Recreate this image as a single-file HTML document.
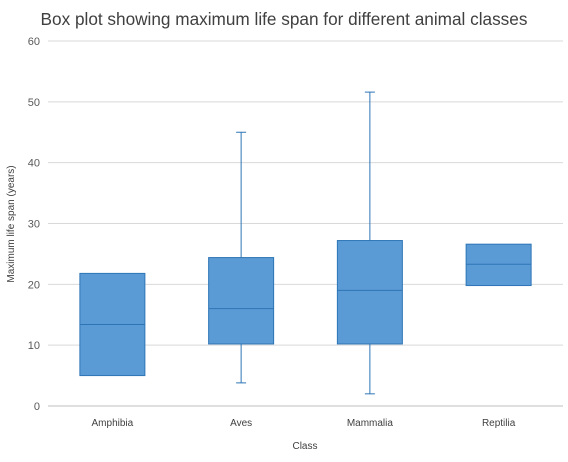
<!DOCTYPE html>
<html><head><meta charset="utf-8"><style>
body{margin:0;background:#fff;font-family:"Liberation Sans",sans-serif}
</style></head><body>
<svg id="chart" width="568" height="457" xmlns="http://www.w3.org/2000/svg" font-family="Liberation Sans, sans-serif">
<text x="284" y="25" text-anchor="middle" font-size="17.2" fill="#404040">Box plot showing maximum life span for different animal classes</text>
<text transform="translate(14,224) rotate(-90)" text-anchor="middle" font-size="10" fill="#404040">Maximum life span (years)</text>
<text x="305" y="449" text-anchor="middle" font-size="10" fill="#404040">Class</text>
<g id="grid"></g><g id="marks"></g>
</svg>
<script>
const categories=["Amphibia","Aves","Mammalia","Reptilia"];
const mins=[5,3.8,2,19.8];
const q1s=[5,10.2,10.2,19.8];
const medians=[13.4,16,19,23.3];
const q3s=[21.8,24.4,27.2,26.6];
const maxs=[21.8,45,51.6,26.6];
const yTicks=[0,10,20,30,40,50,60];
const NS="http://www.w3.org/2000/svg";
const x0=48,x1=563,yTop=41,yBot=406,yMax=60;
const y=v=>yBot-(v/yMax)*(yBot-yTop);
const band=(x1-x0)/categories.length;
const xc=i=>x0+band*(i+0.5);
function mk(t,a,p){const e=document.createElementNS(NS,t);for(const k in a)e.setAttribute(k,a[k]);p.appendChild(e);return e;}
const grid=document.getElementById('grid'),marks=document.getElementById('marks');
yTicks.forEach(v=>{
 const l=mk('line',{x1:x0,x2:x1,y1:y(v),y2:y(v),stroke:v===0?'#bfbfbf':'#d9d9d9','stroke-width':1},grid);
 
 
 const t=mk('text',{x:x0-8,y:y(v)+4,'text-anchor':'end','font-size':11,fill:'#595959'},grid);
 t.textContent=v;
 
 
});
const bw=65;
categories.forEach((c,i)=>{
 const cx=xc(i);
 const g=mk('g',{},marks);
 
 
 if(maxs[i]>q3s[i]){mk('line',{x1:cx,x2:cx,y1:y(q3s[i]),y2:y(maxs[i]),stroke:'#2e75b6'},g);mk('line',{x1:cx-5,x2:cx+5,y1:y(maxs[i]),y2:y(maxs[i]),stroke:'#2e75b6'},g);}
 if(mins[i]<q1s[i]){mk('line',{x1:cx,x2:cx,y1:y(q1s[i]),y2:y(mins[i]),stroke:'#2e75b6'},g);mk('line',{x1:cx-5,x2:cx+5,y1:y(mins[i]),y2:y(mins[i]),stroke:'#2e75b6'},g);}
 mk('rect',{x:cx-bw/2,y:y(q3s[i]),width:bw,height:y(q1s[i])-y(q3s[i]),fill:'#5b9bd5',stroke:'#2e75b6','stroke-width':1},g);
 mk('line',{x1:cx-bw/2,x2:cx+bw/2,y1:y(medians[i]),y2:y(medians[i]),stroke:'#2e75b6'},g);
 const t=mk('text',{x:cx,y:426,'text-anchor':'middle','font-size':10,fill:'#404040'},marks);
 t.textContent=c;
 
 
});
</script>
</body></html>
